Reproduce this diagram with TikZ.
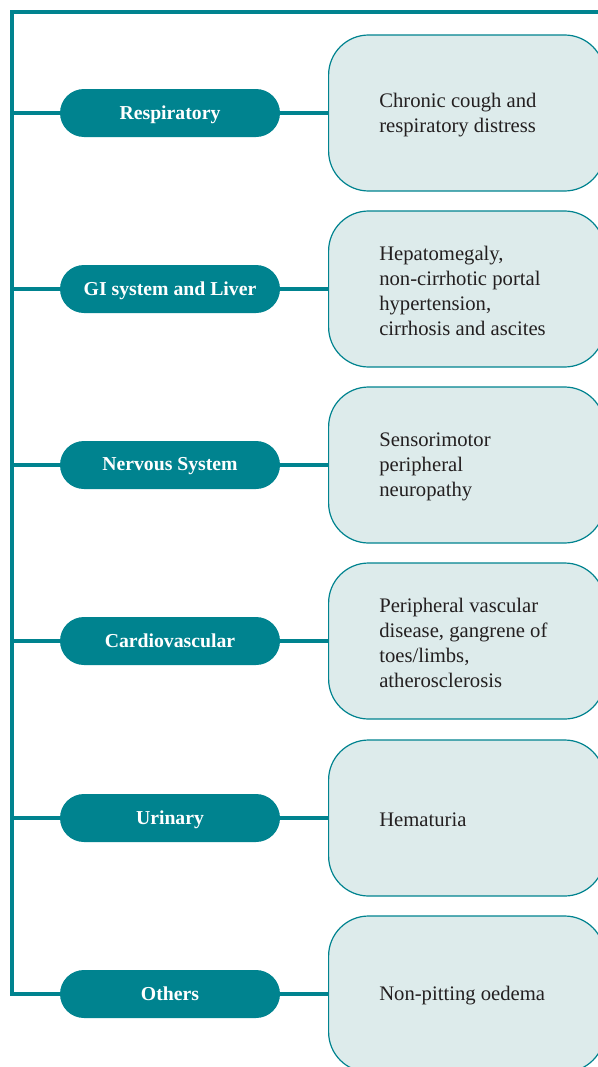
\documentclass[tikz,border=0pt]{standalone}
\usepackage{fontspec}
\setmainfont{Liberation Serif}
\usetikzlibrary{positioning}

\definecolor{tealdark}{RGB}{0,131,143}
\definecolor{tealpale}{RGB}{221,235,235}
\definecolor{inkgray}{RGB}{35,31,32}

\tikzset{
  frame/.style={line width=3pt, draw=tealdark},
  branch/.style={line width=2.6pt, draw=tealdark},
  pill/.style={fill=tealdark, text=white, minimum width=165pt, minimum height=36pt,
    rounded corners=18pt, inner sep=0pt, text depth=1pt,
    font=\fontsize{14.8}{17}\selectfont\bfseries},
  sympbox/.style={draw=tealdark, fill=tealpale, line width=0.9pt, minimum width=207pt,
    minimum height=117pt, rounded corners=30pt, anchor=west},
  symptxt/.style={anchor=west, align=left, inner sep=0pt, text=inkgray,
    font=\fontsize{15.5}{18.75}\selectfont}
}

\begin{document}
\begin{tikzpicture}[x=0.75pt, y=-0.75pt]
    \useasboundingbox (0,0) rectangle (597,1067);

    % Sistemas
    \node[pill] (resp) at (170,113) {Respiratory};
    \node[pill] (gi)   at (170,289) {GI system and Liver};
    \node[pill] (nerv) at (170,465) {Nervous System};
    \node[pill] (card) at (170,641) {Cardiovascular};
    \node[pill] (urin) at (170,818) {Urinary};
    \node[pill] (oth)  at (170,994) {Others};

    % Cajas
    \node[sympbox] (bresp) at (328,113) {};
    \node[sympbox] (bgi)   at (328,289) {};
    \node[sympbox] (bnerv) at (328,465) {};
    \node[sympbox] (bcard) at (328,641) {};
    \node[sympbox] (burin) at (328,818) {};
    \node[sympbox] (both)  at (328,994) {};

    % Textos
    \node[symptxt, right=38.25pt of bresp.west, yshift=-1.5pt] (tresp) {Chronic cough and\\respiratory distress};
    \node[symptxt, right=38.25pt of bgi.west, yshift=-1.5pt] (tgi) {Hepatomegaly,\\non-cirrhotic portal\\hypertension,\\cirrhosis and ascites};
    \node[symptxt, right=38.25pt of bnerv.west, yshift=-1.5pt] (tnerv) {Sensorimotor\\peripheral\\neuropathy};
    \node[symptxt, right=38.25pt of bcard.west, yshift=-1.5pt] (tcard) {Peripheral vascular\\disease, gangrene of\\toes/limbs,\\atherosclerosis};
    \node[symptxt, right=38.25pt of burin.west, yshift=-1.5pt] (turin) {Hematuria};
    \node[symptxt, right=38.25pt of both.west, yshift=-1.5pt] (toth) {Non-pitting oedema};

    % Marco
    \coordinate (topright) at (602,12);
    \coordinate (corner) at (12,12);
    \draw[frame] (topright) -- (corner) |- (oth.west);

    % Ramas
    \foreach \p/\b in {resp/bresp, gi/bgi, nerv/bnerv, card/bcard, urin/burin, oth/both} {
        \draw[branch] (corner |- \p.west) -- (\p.west);
        \draw[branch] (\p.east) -- (\b.west);
    }
\end{tikzpicture}
\end{document}
